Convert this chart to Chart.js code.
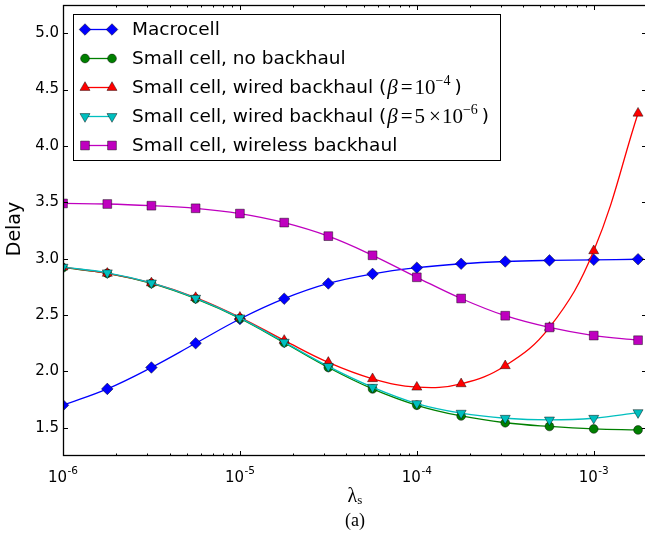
<!DOCTYPE html>
<html><head><meta charset="utf-8">
<script src="https://cdn.jsdelivr.net/npm/chart.js@4"></script>
<style>html,body{margin:0;padding:0;background:#fff;overflow:hidden}canvas{display:block}</style>
</head><body>
<canvas id="c" width="648" height="536"></canvas>
<script>
// ---- data ----
const LAMBDA_S = [1e-6, 1.78e-6, 3.16e-6, 5.62e-6, 1e-5, 1.78e-5, 3.16e-5, 5.62e-5, 1e-4, 1.78e-4, 3.16e-4, 5.62e-4, 1e-3, 1.78e-3];
const MACROCELL      = [1.70, 1.845, 2.035, 2.25, 2.465, 2.645, 2.78, 2.865, 2.92, 2.955, 2.975, 2.985, 2.99, 2.995];
const NO_BACKHAUL    = [2.92, 2.87, 2.78, 2.645, 2.47, 2.255, 2.035, 1.845, 1.70, 1.605, 1.545, 1.512, 1.49, 1.481];
const WIRED_1E4      = [2.925, 2.87, 2.785, 2.655, 2.48, 2.275, 2.08, 1.935, 1.86, 1.89, 2.05, 2.39, 3.07, 4.29];
const WIRED_5E6      = [2.925, 2.875, 2.785, 2.65, 2.475, 2.26, 2.045, 1.86, 1.715, 1.63, 1.585, 1.57, 1.585, 1.635];
const WIRELESS       = [3.49, 3.485, 3.47, 3.447, 3.40, 3.32, 3.20, 3.03, 2.835, 2.647, 2.494, 2.39, 2.318, 2.277];
const SERIES = [MACROCELL, NO_BACKHAUL, WIRED_1E4, WIRED_5E6, WIRELESS];
const SERIES_LABELS = ['Macrocell', 'Small cell, no backhaul', 'Small cell, wired backhaul (β=10⁻⁴ )', 'Small cell, wired backhaul (β=5 ×10⁻⁶ )', 'Small cell, wireless backhaul'];
const Y_TICKS = [1.5, 2.0, 2.5, 3.0, 3.5, 4.0, 4.5, 5.0];
const X_TICKS = [1e-6, 1e-5, 1e-4, 1e-3];
const X_TICK_LABELS = [['10', '-6'], ['10', '-5'], ['10', '-4'], ['10', '-3']];
const Y_TITLE = 'Delay';
const X_TITLE = ['λ', 's'];
const CAPTION = '(a)';

// ---- styles ----
const STY = [
  {c: '#0000ff', ps: 'rectRot', r: 5.8, rot: 0},
  {c: '#008000', ps: 'circle', r: 4.4, rot: 0},
  {c: '#ff0000', ps: 'triangle', r: 5.8, rot: 0},
  {c: '#00bfbf', ps: 'triangle', r: 5.8, rot: 180},
  {c: '#bf00bf', ps: 'rect', r: 6.2, rot: 0}
];
const SANS = '"DejaVu Sans"';
const SERIF = '"Liberation Serif"';

function drawMarker(ctx, s, x, y) {
  const r = s.r;
  ctx.beginPath();
  if (s.ps === 'circle') {
    ctx.arc(x, y, r, 0, Math.PI * 2);
  } else if (s.ps === 'rect') {
    const h = r * Math.SQRT1_2;
    ctx.rect(x - h, y - h, 2 * h, 2 * h);
  } else if (s.ps === 'rectRot') {
    ctx.moveTo(x, y - r); ctx.lineTo(x + r, y); ctx.lineTo(x, y + r); ctx.lineTo(x - r, y); ctx.closePath();
  } else if (s.ps === 'triangle') {
    let rad = s.rot * Math.PI / 180;
    for (let k = 0; k < 3; k++) {
      const px = x + Math.sin(rad) * r, py = y - Math.cos(rad) * r;
      if (k === 0) ctx.moveTo(px, py); else ctx.lineTo(px, py);
      rad += 2 * Math.PI / 3;
    }
    ctx.closePath();
  }
  ctx.fillStyle = s.c; ctx.fill();
  ctx.strokeStyle = 'rgba(0,0,0,0.75)'; ctx.lineWidth = 0.6; ctx.stroke();
}

const SUP = {'⁰':'0','¹':'1','²':'2','³':'3','⁴':'4','⁵':'5','⁶':'6','⁷':'7','⁸':'8','⁹':'9','⁻':'−'};
function drawLabel(ctx, label, x, y) {
  ctx.textBaseline = 'middle';
  ctx.textAlign = 'left';
  const idx = label.indexOf(' (');
  const main = idx >= 0 ? label.slice(0, idx + 1) : label;
  ctx.font = '18.5px ' + SANS; ctx.fillStyle = '#000';
  ctx.fillText(main, x, y);
  x += ctx.measureText(main).width;
  if (idx < 0) return;
  const math = label.slice(idx + 1);
  for (const ch of math) {
    if (ch === '(' || ch === ')') {
      ctx.font = '18.5px ' + SANS;
      ctx.fillText(ch, x, y); x += ctx.measureText(ch).width;
    } else if (SUP[ch]) {
      ctx.font = '14px ' + SERIF;
      ctx.fillText(SUP[ch], x, y - 7.5); x += ctx.measureText(SUP[ch]).width;
    } else if (ch === 'β') {
      ctx.font = 'italic 21px ' + SERIF;
      ctx.fillText(ch, x + 1, y); x += ctx.measureText(ch).width + 2;
    } else if (ch === '=') {
      ctx.font = '21px ' + SERIF;
      x += 2; ctx.fillText(ch, x, y); x += ctx.measureText(ch).width + 2;
    } else if (ch === '×') {
      ctx.font = '21px ' + SERIF;
      ctx.fillText(ch, x, y); x += ctx.measureText(ch).width + 1;
    } else if (ch === ' ') {
      x += 4;
    } else {
      ctx.font = '21px ' + SERIF;
      ctx.fillText(ch, x, y); x += ctx.measureText(ch).width;
    }
  }
}

const decor = {
  id: 'decor',
  afterDatasetsDraw(chart) {
    const {ctx, chartArea: a, scales: {x, y}} = chart;
    ctx.save();
    ctx.strokeStyle = '#000'; ctx.lineWidth = 1;
    ctx.beginPath();
    for (const v of Y_TICKS) {
      const py = Math.round(y.getPixelForValue(v)) + 0.5;
      ctx.moveTo(a.left, py); ctx.lineTo(a.left + 5, py);
      ctx.moveTo(a.right, py); ctx.lineTo(a.right - 5, py);
    }
    for (let e = -6; e <= -3; e++) {
      for (let m = 1; m <= 9; m++) {
        const v = m * Math.pow(10, e);
        if (v > x.max) break;
        const px = Math.round(x.getPixelForValue(v)) + 0.5;
        const L = m === 1 ? 5 : 2.5;
        ctx.moveTo(px, a.bottom); ctx.lineTo(px, a.bottom - L);
        ctx.moveTo(px, a.top); ctx.lineTo(px, a.top + L);
      }
    }
    ctx.stroke();
    ctx.lineWidth = 1.3;
    ctx.strokeRect(a.left + 0.5, a.top + 0.5, a.right - a.left - 1, a.bottom - a.top - 1);
    ctx.restore();
  },
  afterDraw(chart) {
    const {ctx, chartArea: a, scales: {x}} = chart;
    ctx.save();
    ctx.fillStyle = '#000';
    ctx.textBaseline = 'alphabetic';
    ctx.textAlign = 'left';
    // x tick labels
    X_TICKS.forEach((v, i) => {
      const px = x.getPixelForValue(v);
      const [b, s] = X_TICK_LABELS[i];
      ctx.font = '15px ' + SANS; const wb = ctx.measureText(b).width;
      ctx.font = '10.5px ' + SANS; const ws = ctx.measureText(s).width;
      const x0 = px - (wb + ws + 0.5) / 2;
      ctx.font = '15px ' + SANS; ctx.fillText(b, x0, 482);
      ctx.font = '10.5px ' + SANS; ctx.fillText(s, x0 + wb + 0.5, 474);
    });
    // x title
    const cx = 355;
    ctx.font = '20px ' + SERIF; const wl = ctx.measureText(X_TITLE[0]).width;
    ctx.font = '13px ' + SERIF; const wsub = ctx.measureText(X_TITLE[1]).width;
    const tx = cx - (wl + wsub) / 2;
    ctx.font = '20px ' + SERIF; ctx.fillText(X_TITLE[0], tx, 502);
    ctx.font = '13px ' + SERIF; ctx.fillText(X_TITLE[1], tx + wl, 504);
    // caption
    ctx.textAlign = 'center';
    ctx.font = '18px ' + SERIF; ctx.fillText(CAPTION, cx, 526);
    // y title
    ctx.save();
    ctx.translate(15, 229); ctx.rotate(-Math.PI / 2);
    ctx.font = '19px ' + SANS; ctx.textBaseline = 'middle';
    ctx.fillText(Y_TITLE, 0, 0);
    ctx.restore();
    // legend
    const L = {x: 73.5, y: 14.5, w: 427, h: 146};
    ctx.fillStyle = '#fff'; ctx.fillRect(L.x, L.y, L.w, L.h);
    ctx.strokeStyle = '#000'; ctx.lineWidth = 1; ctx.strokeRect(L.x, L.y, L.w, L.h);
    chart.data.datasets.forEach((ds, i) => {
      const ry = 29.5 + i * 29;
      const s = STY[i];
      ctx.strokeStyle = s.c; ctx.lineWidth = 1.3;
      ctx.beginPath(); ctx.moveTo(85, ry); ctx.lineTo(112, ry); ctx.stroke();
      drawMarker(ctx, s, 85, ry);
      drawMarker(ctx, s, 112, ry);
      ctx.fillStyle = '#000';
      drawLabel(ctx, ds.label, 132, ry + 1);
    });
    ctx.restore();
  }
};

const chart = new Chart(document.getElementById('c'), {
  type: 'line',
  data: {
    datasets: SERIES.map((vals, i) => ({
      label: SERIES_LABELS[i],
      data: LAMBDA_S.map((lx, j) => ({x: lx, y: vals[j]})),
      borderColor: STY[i].c,
      backgroundColor: STY[i].c,
      borderWidth: 1.3,
      pointStyle: STY[i].ps,
      pointRadius: STY[i].r,
      pointRotation: STY[i].rot,
      pointBackgroundColor: STY[i].c,
      pointBorderColor: 'rgba(0,0,0,0.75)',
      pointBorderWidth: 0.6,
      tension: 0.4,
      fill: false,
      order: SERIES.length - i
    }))
  },
  options: {
    responsive: false,
    animation: false,
    events: [],
    layout: {autoPadding: false, padding: {left: 0, right: 1, top: 5, bottom: 0}},
    plugins: {legend: {display: false}, tooltip: {enabled: false}},
    scales: {
      x: {
        type: 'logarithmic', min: 1e-6, max: 2e-3,
        grid: {display: false, drawTicks: false}, border: {display: false},
        ticks: {display: false},
        afterFit(s) { s.height = 80; s.paddingLeft = 0; s.paddingRight = 0; }
      },
      y: {
        type: 'linear', min: 1.25, max: 5.25,
        grid: {display: false, drawTicks: false}, border: {display: false},
        afterBuildTicks(s) { s.ticks = Y_TICKS.map(v => ({value: v})); },
        ticks: {padding: 4, color: '#000', font: {family: 'DejaVu Sans', size: 15}, callback: v => Number(v).toFixed(1)},
        afterFit(s) { s.width = 63; s.paddingTop = 0; s.paddingBottom = 0; }
      }
    }
  },
  plugins: [decor]
});
</script>
</body></html>
